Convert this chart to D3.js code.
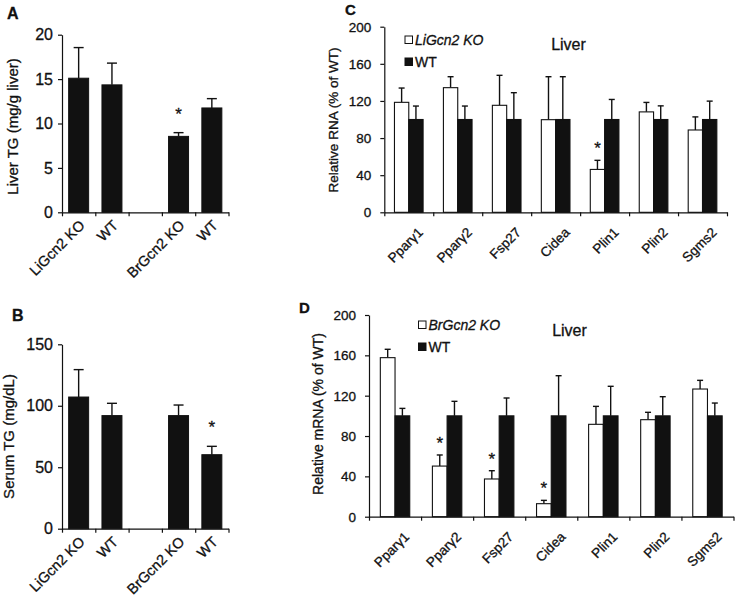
<!DOCTYPE html>
<html><head><meta charset="utf-8">
<script src="https://cdn.jsdelivr.net/npm/d3@7/dist/d3.min.js"></script>
<style>
html,body{margin:0;padding:0;background:#fff;}
svg{display:block;font-family:"Liberation Sans",Arial,sans-serif;}
svg text{stroke:#111;stroke-width:0.3px;}
</style></head>
<body>
<svg id="chart" width="738" height="598"></svg>
<script>
// ---------- DATA ----------
const groupsAB = ["LiGcn2 KO", "WT", "", "BrGcn2 KO", "WT"];
const liverTG = [15.1, 14.35, null, 8.55, 11.75];
const liverTGSem = [3.45, 2.45, null, 0.42, 1.05];
const liverTGSig = [false, false, false, true, false];
const serumTG = [107.1, 92, null, 92, 60.2];
const serumTGSem = [22.3, 10, null, 8.6, 6.8];
const serumTGSig = [false, false, false, false, true];
const yTicksA = [0, 5, 10, 15, 20];
const yTicksB = [0, 50, 100, 150];

const genes = ["Pparγ1", "Pparγ2", "Fsp27", "Cidea", "Plin1", "Plin2", "Sgms2"];
const liKO = [118.5, 134.3, 115.3, 99.8, 46.2, 108.2, 88.7];
const liKOSem = [15.4, 11.8, 32.3, 46.3, 9.8, 10.2, 14.1];
const liWT = [100, 100, 100, 100, 100, 100, 100];
const liWTSem = [14.5, 14.5, 28.9, 46.1, 21.6, 14.7, 19.8];
const liSig = [false, false, false, false, true, false, false];

const brKO = [157.7, 50.2, 37.4, 12.9, 91.6, 96.2, 126.6];
const brKOSem = [8.3, 11.0, 8.2, 3.3, 17.8, 7.3, 8.6];
const brWT = [100, 100, 100, 100, 100, 100, 100];
const brWTSem = [7.4, 14.4, 17.7, 39.8, 29.3, 19.0, 12.7];
const brSig = [false, true, true, true, false, false, false];
const yTicksCD = [0, 40, 80, 120, 160, 200];

// ---------- DRAW ----------
const svg = d3.select("#chart");
svg.append("rect").attr("width", 738).attr("height", 598).attr("fill", "#fff");
const INK = "#111";

function xAxisEdges(g, x, y0, n) {
  const edge = d3.scaleLinear().domain([0, n]).range(x.range());
  g.append("g").attr("transform", `translate(0,${y0})`)
    .call(d3.axisBottom(edge).tickValues(d3.range(n + 1)).tickFormat("").tickSize(4).tickSizeOuter(0))
    .call(s => s.selectAll("path,line").attr("stroke", INK).attr("stroke-width", 1.2));
}
function yAxis(g, y, x0, ticks, fs, pad) {
  g.append("g").attr("transform", `translate(${x0},0)`)
    .call(d3.axisLeft(y).tickValues(ticks).tickSize(4).tickSizeOuter(0).tickPadding(pad))
    .call(s => {
      s.selectAll("path,line").attr("stroke", INK).attr("stroke-width", 1.2);
      s.selectAll("text").attr("font-size", fs).attr("fill", INK).attr("font-family", null);
    });
}
function errBar(g, cx, yTop, yErr, cap) {
  g.append("line").attr("x1", cx).attr("x2", cx).attr("y1", yTop).attr("y2", yErr)
    .attr("stroke", INK).attr("stroke-width", 1.4);
  g.append("line").attr("x1", cx - cap / 2).attr("x2", cx + cap / 2).attr("y1", yErr).attr("y2", yErr)
    .attr("stroke", INK).attr("stroke-width", 1.4);
}

// Panels A & B (single-series)
function panelAB(o) {
  const g = svg.append("g");
  const x = d3.scaleBand().domain(d3.range(o.groups.length)).range(o.xr).paddingInner(0.4).paddingOuter(0.2);
  const xb = d3.scaleBand().domain(d3.range(o.groups.length)).range(o.xr);
  const y = d3.scaleLinear().domain(o.ydom).range(o.yr);
  o.vals.forEach((v, i) => {
    if (v == null) return;
    const bx = x(i), bw = x.bandwidth();
    errBar(g, bx + bw / 2, y(v), y(v + o.sem[i]), 10);
    g.append("rect").attr("x", bx).attr("width", bw).attr("y", y(v)).attr("height", y(0) - y(v))
      .attr("fill", INK).attr("stroke", INK).attr("stroke-width", 1);
    if (o.sig[i]) g.append("text").attr("x", bx + bw / 2).attr("y", y(v + o.sem[i]) - 13)
      .attr("text-anchor", "middle").attr("font-size", 17).attr("fill", INK).text("*");
  });
  yAxis(g, y, o.xr[0], o.ticks, 16, 5);
  xAxisEdges(g, xb, y(0), o.groups.length);
  o.groups.forEach((t, i) => {
    if (!t) return;
    const cx = xb(i) + xb.bandwidth() / 2;
    g.append("text").attr("transform", `translate(${cx + 7},${y(0) + 14}) rotate(-45)`)
      .attr("text-anchor", "end").attr("font-size", 14.5).attr("fill", INK).text(t);
  });
  g.append("text").attr("transform", `translate(${o.ylabel[1]},${o.ylabel[2]}) rotate(-90)`)
    .attr("text-anchor", "middle").attr("font-size", 15).attr("fill", INK).text(o.ylabel[0]);
  g.append("text").attr("x", o.letter[0]).attr("y", o.letter[1]).attr("font-size", 16)
    .attr("font-weight", "bold").attr("fill", INK).text(o.letter[2]);
}

panelAB({groups: groupsAB, vals: liverTG, sem: liverTGSem, sig: liverTGSig, xr: [62, 228.5],
  ydom: [0, 20], yr: [212.3, 34.7], ticks: yTicksA, ylabel: ["Liver TG (mg/g liver)", 18, 126.5],
  letter: [7, 19, "A"]});
panelAB({groups: groupsAB, vals: serumTG, sem: serumTGSem, sig: serumTGSig, xr: [62, 228.5],
  ydom: [0, 150], yr: [528.7, 344.3], ticks: yTicksB, ylabel: ["Serum TG (mg/dL)", 14, 436.5],
  letter: [12, 321, "B"]});

// Panels C & D (grouped)
function panelCD(o) {
  const g = svg.append("g");
  const x = d3.scaleBand().domain(o.genes).range(o.xr);
  const inner = d3.scaleBand().domain(["KO", "WT"]).range([0, x.bandwidth()]).paddingOuter(o.pad);
  const y = d3.scaleLinear().domain([0, 200]).range(o.yr);
  const series = [
    {key: "KO", vals: o.ko, sem: o.koSem, fill: "#fff"},
    {key: "WT", vals: o.wt, sem: o.wtSem, fill: INK}
  ];
  series.forEach(s => {
    s.vals.forEach((v, i) => {
      const bx = x(o.genes[i]) + inner(s.key), bw = inner.bandwidth();
      errBar(g, bx + bw / 2, y(v), y(v + s.sem[i]), 6);
      g.append("rect").attr("x", bx).attr("width", bw).attr("y", y(v)).attr("height", y(0) - y(v))
        .attr("fill", s.fill).attr("stroke", INK).attr("stroke-width", 1.1);
      if (s.key === "KO" && o.sig[i]) g.append("text").attr("x", bx + bw / 2)
        .attr("y", y(v + s.sem[i]) - 6).attr("text-anchor", "middle").attr("font-size", 17)
        .attr("fill", INK).text("*");
    });
  });
  yAxis(g, y, o.xr[0], yTicksCD, 13.5, 9);
  xAxisEdges(g, x, y(0), o.genes.length);
  o.genes.forEach(t => {
    const cx = x(t) + x.bandwidth() / 2;
    g.append("text").attr("transform", `translate(${cx + 15},${y(0) + 21}) rotate(-45)`)
      .attr("text-anchor", "end").attr("font-size", 13.5).attr("fill", INK).text(t);
  });
  g.append("text").attr("transform", `translate(${o.ylabel[1]},${o.ylabel[2]}) rotate(-90)`)
    .attr("text-anchor", "middle").attr("font-size", o.ylabel[3]).attr("fill", INK).text(o.ylabel[0]);
  g.append("text").attr("x", o.letter[0]).attr("y", o.letter[1]).attr("font-size", 15)
    .attr("font-weight", "bold").attr("fill", INK).text(o.letter[2]);
  // legend
  const L = o.legend;
  g.append("rect").attr("x", L[0]).attr("y", L[1]).attr("width", 7.5).attr("height", 7.5)
    .attr("fill", "#fff").attr("stroke", INK).attr("stroke-width", 1);
  g.append("text").attr("x", L[0] + 10).attr("y", L[1] + 8.5).attr("font-size", 14)
    .attr("font-style", "italic").attr("fill", INK).text(o.koName);
  g.append("rect").attr("x", L[0]).attr("y", L[1] + 22).attr("width", 7.5).attr("height", 7.5)
    .attr("fill", INK).attr("stroke", INK).attr("stroke-width", 1);
  g.append("text").attr("x", L[0] + 10).attr("y", L[1] + 30.5).attr("font-size", 14)
    .attr("fill", INK).text("WT");
  g.append("text").attr("x", o.title[0]).attr("y", o.title[1]).attr("text-anchor", "middle")
    .attr("font-size", 16).attr("fill", INK).text("Liver");
}

panelCD({genes: genes, ko: liKO, koSem: liKOSem, wt: liWT, wtSem: liWTSem, sig: liSig,
  xr: [384.3, 727], yr: [212.3, 26.7], pad: 0.71, ylabel: ["Relative RNA (% of WT)", 338, 120, 13.5],
  letter: [345, 15, "C"], legend: [405, 36], koName: "LiGcn2 KO", title: [568.5, 50]});
panelCD({genes: genes, ko: brKO, koSem: brKOSem, wt: brWT, wtSem: brWTSem, sig: brSig,
  xr: [369, 733.5], yr: [516.7, 315], pad: 0.77, ylabel: ["Relative mRNA (% of WT)", 323, 414, 14],
  letter: [299, 313, "D"], legend: [418.5, 321], koName: "BrGcn2 KO", title: [569.5, 336]});
</script>
</body></html>
